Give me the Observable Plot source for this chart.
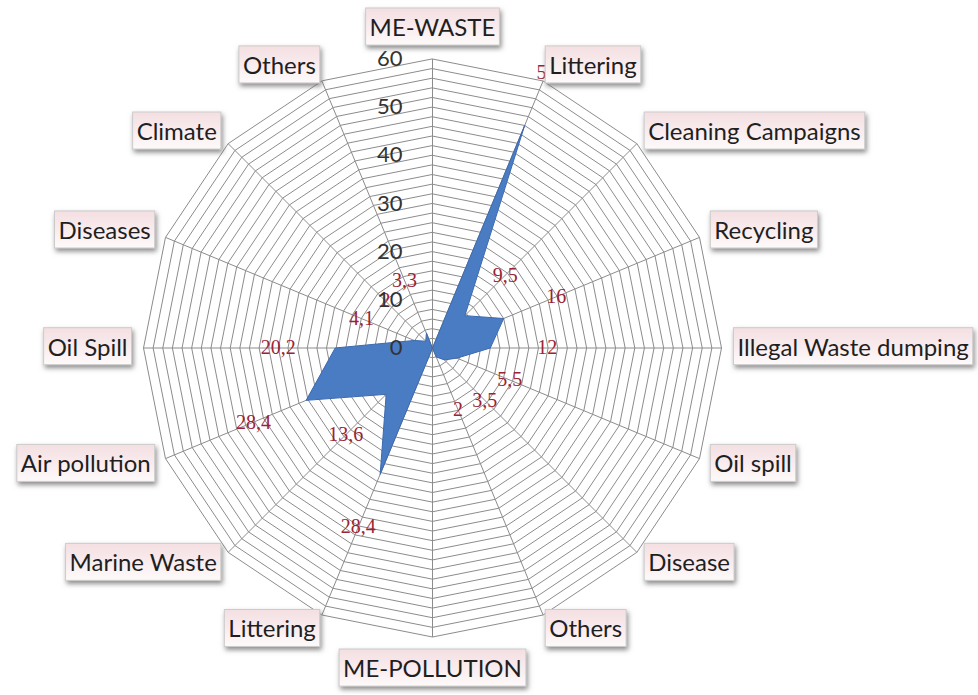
<!DOCTYPE html>
<html>
<head>
<meta charset="utf-8">
<script src="https://cdn.jsdelivr.net/npm/d3@7"></script>
<script src="https://cdn.jsdelivr.net/npm/@observablehq/plot@0.6"></script>
<style>
  html, body { margin: 0; padding: 0; background: #ffffff; }
</style>
</head>
<body>
<div id="chart"></div>
<script>
// ---- data ----
const categories = ["ME-WASTE", "Littering", "Cleaning Campaigns", "Recycling", "Illegal Waste dumping", "Oil spill", "Disease", "Others",
                    "ME-POLLUTION", "Littering", "Marine Waste", "Air pollution", "Oil Spill", "Diseases", "Climate", "Others"];
const values = [null, 50, 9.5, 16, 12, 5.5, 3.5, 2, null, 28.4, 13.6, 28.4, 20.2, 4.1, 2, 3.3];
const tickValues = [0, 10, 20, 30, 40, 50, 60];
const gridStep = 2;
const maxValue = 60;

// ---- geometry helpers ----
const W = 978, H = 695;
const cx = 432, cy = 347.5, R = 289;
const k = R / maxValue;           // px per unit
const n = categories.length;
const ang = i => i * 2 * Math.PI / n;
const px = (r, i) => r * Math.sin(ang(i));
const py = (r, i) => r * Math.cos(ang(i));

const axes = categories.map((c, i) => ({i, name: c, x: px(maxValue, i), y: py(maxValue, i)}));

const rings = [];
for (let v = gridStep; v <= maxValue + 1e-9; v += gridStep) {
  for (let i = 0; i < n; i++) rings.push({ring: v, x: px(v, i), y: py(v, i)});
}

const poly = values.map((v, i) => ({x: px(v ?? 0, i), y: py(v ?? 0, i)}));

const labelOffset = 57 / k;
const dataLabels = values.map((v, i) => ({v, i})).filter(d => d.v != null).map(d => ({
  text: String(d.v).replace(".", ","),
  x: px(d.v + labelOffset, d.i),
  y: py(d.v + labelOffset, d.i)
}));

const sideOffset = 16 / k, vertOffset = 23 / k;
const catPos = axes.map(a => {
  const off = (a.i === 0 || a.i === n / 2) ? vertOffset : sideOffset;
  return {...a, lx: px(maxValue + off, a.i), ly: py(maxValue + off, a.i)};
});
const catTop = catPos.filter(d => d.i === 0);
const catBottom = catPos.filter(d => d.i === n / 2);
const catRight = catPos.filter(d => d.i > 0 && d.i < n / 2);
const catLeft = catPos.filter(d => d.i > n / 2);

const catFont = "Lato, 'Open Sans', sans-serif";
const catSize = 24;
const catFill = "#1f1f1f";

const chart = Plot.plot({
  width: W,
  height: H,
  margin: 0,
  style: {background: "white", fontFamily: catFont},
  x: {domain: [-cx / k, (W - cx) / k], axis: null},
  y: {domain: [-(H - cy) / k, cy / k], axis: null},
  marks: [
    Plot.line(rings, {x: "x", y: "y", z: "ring", curve: "linear-closed", stroke: "#8c8c8c", strokeWidth: 1}),
    Plot.link(axes, {x1: 0, y1: 0, x2: "x", y2: "y", stroke: "#8c8c8c", strokeWidth: 1}),
    Plot.line(poly, {x: "x", y: "y", curve: "linear-closed", fill: "#4a7cc4", stroke: "#3d6aae", strokeWidth: 1}),
    Plot.text(dataLabels, {x: "x", y: "y", text: "text", fill: "#9b2335", fontSize: 20, fontFamily: "'Liberation Serif', serif"}),
    Plot.text(tickValues, {x: 0, y: d => d, text: d => String(d), dx: -30, textAnchor: "end", fill: "#333333", fontSize: 22, fontFamily: catFont}),
    Plot.text(catTop, {x: "lx", y: "ly", text: "name", lineAnchor: "bottom", textAnchor: "middle", fill: catFill, fontSize: catSize, fontFamily: catFont}),
    Plot.text(catBottom, {x: "lx", y: "ly", text: "name", lineAnchor: "top", textAnchor: "middle", fill: catFill, fontSize: catSize, fontFamily: catFont}),
    Plot.text(catRight, {x: "lx", y: "ly", text: "name", textAnchor: "start", fill: catFill, fontSize: catSize, fontFamily: catFont}),
    Plot.text(catLeft, {x: "lx", y: "ly", text: "name", textAnchor: "end", fill: catFill, fontSize: catSize, fontFamily: catFont})
  ]
});

document.getElementById("chart").append(chart);

// ---- label boxes (decoration behind category texts) ----
const svg = d3.select(chart);
const defs = svg.insert("defs", ":first-child");
const grad = defs.append("linearGradient").attr("id", "boxgrad").attr("x1", 0).attr("y1", 0).attr("x2", 0).attr("y2", 1);
grad.append("stop").attr("offset", "0%").attr("stop-color", "#f4dfe2");
grad.append("stop").attr("offset", "60%").attr("stop-color", "#faeef0");
grad.append("stop").attr("offset", "100%").attr("stop-color", "#fefafa");
const filt = defs.append("filter").attr("id", "boxshadow").attr("x", "-20%").attr("y", "-30%").attr("width", "140%").attr("height", "180%");
filt.append("feDropShadow").attr("dx", 1.5).attr("dy", 3).attr("stdDeviation", 2.4).attr("flood-color", "#6f6f6f").attr("flood-opacity", 0.8);

const catSet = new Set(categories);
svg.selectAll("text").each(function () {
  if (!catSet.has(this.textContent)) return;
  const b = this.getBBox();
  const rect = document.createElementNS("http://www.w3.org/2000/svg", "rect");
  rect.setAttribute("x", b.x - 4);
  rect.setAttribute("y", b.y - 4);
  rect.setAttribute("width", b.width + 8);
  rect.setAttribute("height", b.height + 8);
  const t = this.getAttribute("transform");
  if (t) rect.setAttribute("transform", t);
  rect.setAttribute("fill", "url(#boxgrad)");
  rect.setAttribute("stroke", "#cccccc");
  rect.setAttribute("stroke-width", 1);
  rect.setAttribute("filter", "url(#boxshadow)");
  this.parentNode.insertBefore(rect, this);
});
</script>
</body>
</html>
